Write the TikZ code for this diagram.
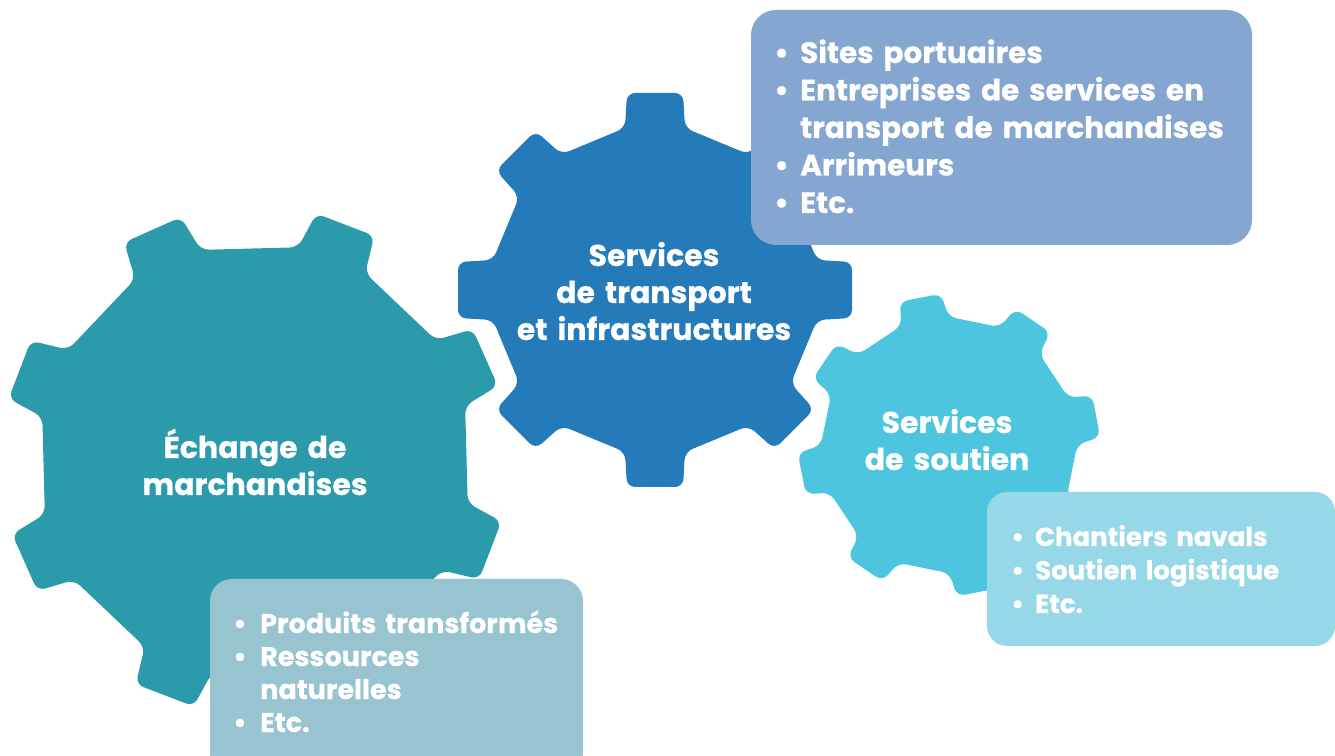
\documentclass[tikz,border=0pt]{standalone}
\usepackage{fontspec}
\setmainfont{Poppins}[BoldFeatures={FakeBold=0.6}]
\usetikzlibrary{calc}
\definecolor{gearA}{HTML}{2B9BAC}
\definecolor{gearB}{HTML}{257BB9}
\definecolor{gearC}{HTML}{4EC5DE}
\definecolor{boxB}{HTML}{84A6D1}
\definecolor{boxC}{HTML}{97D8E8}
\definecolor{boxA}{HTML}{98C3D0}
% #1 colour, #2 cx, #3 cy, #4 R, #5 r, #6 half width top, #7 half width base, #8 offset
\newcommand{\drawgear}[8]{%
  \fill[#1, rounded corners=8pt]
    ($ ($(#2,#3)+(#8-45:#5)+(#8+45:#7)$)!0.5!($(#2,#3)+(#8:#5)+(#8-90:#7)$) $)
    \foreach \k in {0,...,7}{
      -- ($(#2,#3)+(#8+45*\k:#5)+(#8+45*\k-90:#7)$)
      -- ($(#2,#3)+(#8+45*\k:#4)+(#8+45*\k-90:#6)$)
      -- ($(#2,#3)+(#8+45*\k:#4)+(#8+45*\k+90:#6)$)
      -- ($(#2,#3)+(#8+45*\k:#5)+(#8+45*\k+90:#7)$)
    } -- cycle;
}
\newcommand{\bul}[1]{\makebox[#1][l]{•}}
\tikzset{
  geartext/.style={text=white, inner sep=0pt, anchor=base, text width=340pt, align=center,
    font=\fontsize{30}{37}\selectfont\bfseries},
  listtext/.style={text=white, inner sep=0pt, anchor=base west, text width=540pt, align=left},
  listbox/.style={rounded corners=#1},
}
\begin{document}
\begin{tikzpicture}[x=1pt,y=1pt]
\useasboundingbox (0,0) rectangle (1335,755);
\clip (0,0) rectangle (1335,755);
% gears
\drawgear{gearA}{255}{295}{252}{214}{31}{36}{24}
\drawgear{gearB}{655}{465}{197}{162}{28}{30}{0}
\drawgear{gearC}{949}{310}{150}{126}{21}{24}{11}
% boxes
\fill[boxB, listbox=25pt] (751,510) rectangle (1252,745);
\fill[boxC, listbox=20pt] (987,109) rectangle (1335,263);
\fill[boxA, listbox=22pt] (210,-20) rectangle (583,176);
% gear labels
\node[geartext] (tA) at (255,297) {Échange de\\marchandises};
\node[geartext] (tB) at (654,489) {Services\\de transport\\et infrastructures};
\node[geartext] (tC) at (947,322) {Services\\de soutien};
% lists
\node[listtext, font=\fontsize{29.5}{37.5}\selectfont\bfseries] (lB) at (774,692)
  {\bul{26pt}Sites portuaires\\
   \bul{26pt}Entreprises de services en\\
   \hspace*{26pt}transport de marchandises\\
   \bul{26pt}Arrimeurs\\
   \bul{26pt}Etc.};
\node[listtext, font=\fontsize{26}{33.5}\selectfont\bfseries] (lC) at (1011,209)
  {\bul{24pt}Chantiers navals\\
   \bul{24pt}Soutien logistique\\
   \bul{24pt}Etc.};
\node[listtext, font=\fontsize{27}{33}\selectfont\bfseries] (lA) at (233,122)
  {\bul{27pt}Produits transformés\\
   \bul{27pt}Ressources\\
   \hspace*{27pt}naturelles\\
   \bul{27pt}Etc.};
\end{tikzpicture}
\end{document}
